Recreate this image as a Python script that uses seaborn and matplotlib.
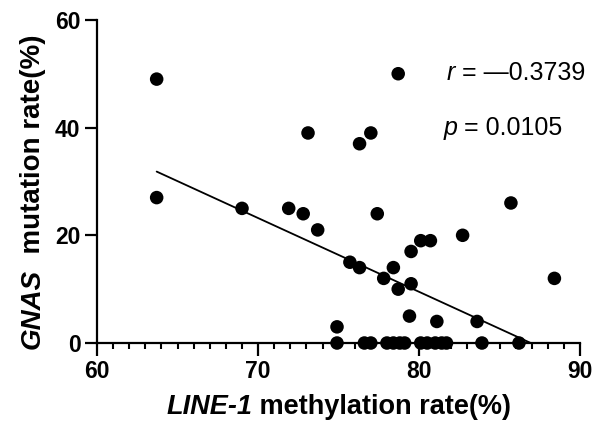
import seaborn as sns
import matplotlib.pyplot as plt
import pandas as pd
import numpy as np

# LINE-1 methylation (%) vs GNAS mutation rate (%)
methylation = [63.7, 63.7, 69.0, 71.9, 72.8, 73.7, 73.1, 76.3, 77.0, 77.4,
               78.7, 85.7, 75.7, 76.3, 80.1, 80.7, 79.5, 82.7, 88.4, 78.4,
               77.8, 78.7, 79.5, 79.4, 81.1, 83.6, 74.9,
               74.9, 76.6, 77.0, 78.0, 78.4, 78.8, 79.1, 80.1, 80.5, 81.0,
               81.4, 81.7, 83.9, 86.2]
mutation = [49, 27, 25, 25, 24, 21, 39, 37, 39, 24,
            50, 26, 15, 14, 19, 19, 17, 20, 12, 14,
            12, 10, 11, 5, 4, 4, 3,
            0, 0, 0, 0, 0, 0, 0, 0, 0, 0,
            0, 0, 0, 0]

# regression line as drawn in the figure
fit_slope = -1.37
fit_intercept = 119.1

r_value = '\u20140.3739'
p_value = '0.0105'

df = pd.DataFrame({'methylation': methylation, 'mutation': mutation})

sns.set_style('ticks')
plt.rcParams['font.family'] = ['Liberation Sans', 'DejaVu Sans']
plt.rcParams['text.color'] = 'black'
plt.rcParams['xtick.color'] = 'black'
plt.rcParams['ytick.color'] = 'black'
plt.rcParams['axes.edgecolor'] = 'black'

fig = plt.figure(figsize=(5.92, 4.32), dpi=100)
ax = fig.add_axes([0.164, 0.206, 0.816, 0.748])

sns.scatterplot(data=df, x='methylation', y='mutation', ax=ax, color='black',
                s=95, edgecolor='none', clip_on=False, zorder=4, legend=False)

# fitted line, clipped at zero like the original
x0 = min(methylation)
x1 = -fit_intercept / fit_slope
ax.plot([x0, x1], [fit_slope * x0 + fit_intercept, 0], color='black', lw=1.3, zorder=3)

ax.set_xlim(60, 90)
ax.set_ylim(0, 60)
ax.set_xticks([60, 70, 80, 90])
ax.set_xticks(np.arange(60, 91, 1), minor=True)
ax.set_yticks([0, 20, 40, 60])
sns.despine(ax=ax)
for sp in ['left', 'bottom']:
    ax.spines[sp].set_linewidth(1.6)
ax.tick_params(axis='both', which='major', length=9, width=1.6, labelsize=16.5, pad=3)
ax.tick_params(axis='x', which='minor', length=4.5, width=1.5)
for lab in ax.get_xticklabels() + ax.get_yticklabels():
    lab.set_fontweight('bold')
ax.set_xlabel('')
ax.set_ylabel('')

# axis titles with italic gene names
t1 = fig.text(0.281, 0.042, 'LINE-1', fontsize=19.5, fontweight='bold', style='italic')
ax.annotate(' methylation rate(%)', xy=(1, 0), xycoords=t1, va='bottom',
            fontsize=19.5, fontweight='bold')
t2 = fig.text(0.033, 0.206, 'GNAS', fontsize=20, fontweight='bold', style='italic',
              rotation=90)
ax.annotate('  mutation rate(%)', xy=(0, 1), xycoords=t2, va='bottom', ha='left',
            rotation=90, fontsize=20, fontweight='bold')

tr = ax.text(81.7, 50.2, 'r', fontsize=18, style='italic', va='center', clip_on=False)
ax.annotate(' = ' + r_value, xy=(1, 0), xycoords=tr, va='bottom', fontsize=18)
tp = ax.text(81.5, 40.0, 'p', fontsize=18, style='italic', va='center', clip_on=False)
ax.annotate(' = ' + p_value, xy=(1, 0), xycoords=tp, va='bottom', fontsize=18)

plt.savefig('out.png', dpi=100)
